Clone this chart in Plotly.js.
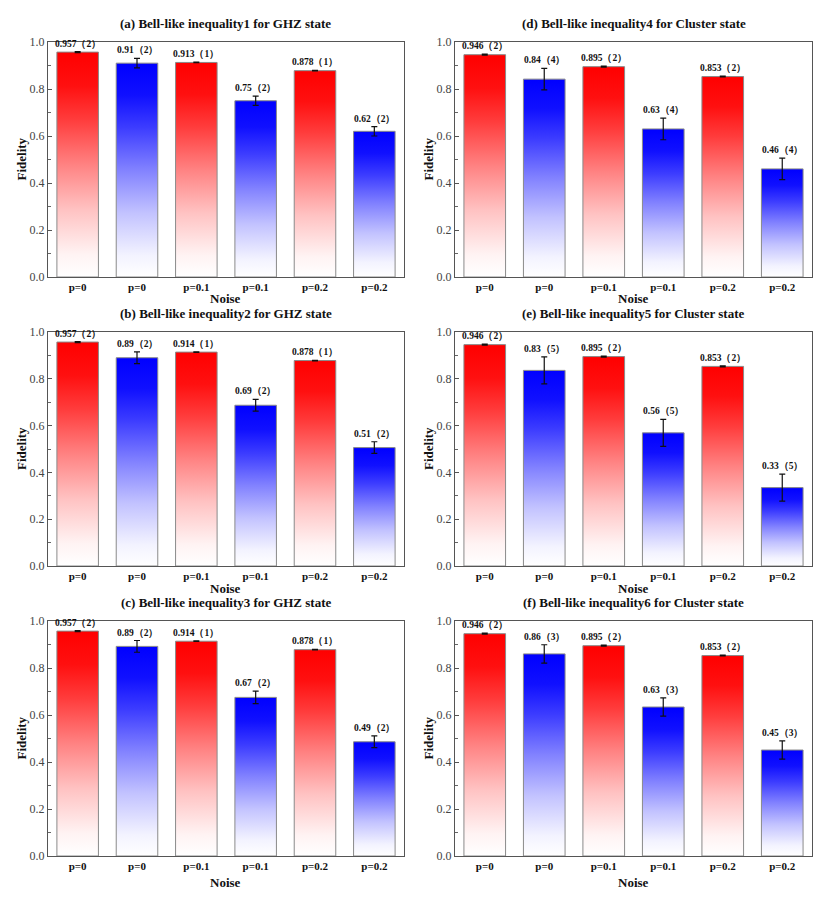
<!DOCTYPE html>
<html>
<head>
<meta charset="utf-8">
<script src="https://cdn.plot.ly/plotly-3.0.1.min.js"></script>
<style>html,body{margin:0;padding:0;background:#fff;}#chart{width:830px;height:906px;}</style>
</head>
<body>
<div id="chart"></div>
<script>
// ---------- data ----------
const categories = ['p=0', 'p=0', 'p=0.1', 'p=0.1', 'p=0.2', 'p=0.2'];
const barColorKind = ['red', 'blue', 'red', 'blue', 'red', 'blue'];

const titles = [
  '(a) Bell-like inequality1 for GHZ state',
  '(b) Bell-like inequality2 for GHZ state',
  '(c) Bell-like inequality3 for GHZ state',
  '(d) Bell-like inequality4 for Cluster state',
  '(e) Bell-like inequality5 for Cluster state',
  '(f) Bell-like inequality6 for Cluster state'
];

const valuesA = [0.957, 0.91, 0.913, 0.75, 0.878, 0.62];
const errorsA = [0.002, 0.02, 0.001, 0.02, 0.001, 0.02];
const labelsA = ['0.957（2）', '0.91（2）', '0.913（1）', '0.75（2）', '0.878（1）', '0.62（2）'];

const valuesB = [0.957, 0.89, 0.914, 0.687, 0.878, 0.506];
const errorsB = [0.002, 0.025, 0.001, 0.025, 0.001, 0.025];
const labelsB = ['0.957（2）', '0.89（2）', '0.914（1）', '0.69（2）', '0.878（1）', '0.51（2）'];

const valuesC = [0.957, 0.892, 0.914, 0.675, 0.878, 0.486];
const errorsC = [0.002, 0.025, 0.001, 0.027, 0.001, 0.025];
const labelsC = ['0.957（2）', '0.89（2）', '0.914（1）', '0.67（2）', '0.878（1）', '0.49（2）'];

const valuesD = [0.946, 0.842, 0.895, 0.63, 0.853, 0.46];
const errorsD = [0.002, 0.046, 0.002, 0.046, 0.002, 0.046];
const labelsD = ['0.946（2）', '0.84（4）', '0.895（2）', '0.63（4）', '0.853（2）', '0.46（4）'];

const valuesE = [0.946, 0.836, 0.895, 0.569, 0.853, 0.335];
const errorsE = [0.002, 0.058, 0.002, 0.058, 0.002, 0.058];
const labelsE = ['0.946（2）', '0.83（5）', '0.895（2）', '0.56（5）', '0.853（2）', '0.33（5）'];

const valuesF = [0.946, 0.86, 0.895, 0.634, 0.853, 0.451];
const errorsF = [0.002, 0.039, 0.002, 0.039, 0.002, 0.039];
const labelsF = ['0.946（2）', '0.86（3）', '0.895（2）', '0.63（3）', '0.853（2）', '0.45（3）'];

const yTickVals = [0, 0.2, 0.4, 0.6, 0.8, 1.0];
const yTickText = ['0.0', '0.2', '0.4', '0.6', '0.8', '1.0'];

// ---------- styling ----------
const FONT = 'Liberation Serif';
const W = 830, H = 906;
const panels = [
  {v: valuesA, e: errorsA, l: labelsA, x: [48, 404], y: [42, 277], noiseOff: 21, fidX: 21},
  {v: valuesB, e: errorsB, l: labelsB, x: [48, 404], y: [332, 566], noiseOff: 22, fidX: 21},
  {v: valuesC, e: errorsC, l: labelsC, x: [48, 404], y: [621, 856], noiseOff: 26, fidX: 21},
  {v: valuesD, e: errorsD, l: labelsD, x: [455, 812], y: [42, 277], noiseOff: 21, fidX: 428},
  {v: valuesE, e: errorsE, l: labelsE, x: [455, 812], y: [332, 566], noiseOff: 22, fidX: 428},
  {v: valuesF, e: errorsF, l: labelsF, x: [455, 812], y: [621, 856], noiseOff: 26, fidX: 428}
];
const scales = {
  red: [[0, '#ffffff'], [0.1, '#fff3f3'], [0.3, '#ffc2c2'], [0.5, '#ff8282'], [0.7, '#ff3c3c'], [0.85, '#ff1010'], [1, '#ff0000']],
  blue: [[0, '#ffffff'], [0.1, '#f3f3ff'], [0.3, '#c2c2ff'], [0.5, '#8282ff'], [0.7, '#3c3cff'], [0.85, '#1010ff'], [1, '#0000ff']]
};
const halfW = 0.35;

const traces = [];
const annotations = [];
const layout = {
  width: W, height: H, margin: {l: 0, r: 0, t: 0, b: 0},
  paper_bgcolor: '#fff', plot_bgcolor: '#fff', showlegend: false,
  font: {family: FONT, color: '#000'}
};

panels.forEach((p, k) => {
  const n = k + 1;
  const xa = n === 1 ? 'x' : 'x' + n;
  const ya = n === 1 ? 'y' : 'y' + n;
  const xd = [p.x[0] / W, p.x[1] / W];
  const yd = [1 - p.y[1] / H, 1 - p.y[0] / H];

  p.v.forEach((val, i) => {
    traces.push({
      type: 'scatter', mode: 'lines', xaxis: xa, yaxis: ya,
      x: [i - halfW, i + halfW, i + halfW, i - halfW, i - halfW],
      y: [0, 0, val, val, 0],
      fill: 'toself',
      fillgradient: {type: 'vertical', colorscale: scales[barColorKind[i]], start: 0, stop: val},
      line: {color: '#8a8a8a', width: 1},
      hoverinfo: 'skip'
    });
  });
  traces.push({
    type: 'scatter', mode: 'markers', xaxis: xa, yaxis: ya,
    x: categories.map((c, i) => i), y: p.v,
    marker: {size: 2, opacity: 0},
    error_y: {type: 'data', array: p.e, visible: true, color: '#111', thickness: 1.2, width: 3},
    hoverinfo: 'skip'
  });

  layout['xaxis' + (n === 1 ? '' : n)] = {
    domain: xd, anchor: ya, range: [-0.5, 5.5],
    tickvals: categories.map((c, i) => i), ticktext: categories.map(c => '<b>' + c + '</b>'),
    tickfont: {family: FONT, size: 11, color: '#111'},
    ticks: '', showgrid: false, zeroline: false,
    showline: true, mirror: true, linecolor: '#555', linewidth: 1.2, fixedrange: true
  };
  layout['yaxis' + (n === 1 ? '' : n)] = {
    domain: yd, anchor: xa, range: [0, 1],
    tickvals: yTickVals, ticktext: yTickText,
    tickfont: {family: FONT, size: 12, color: '#444'},
    ticks: 'inside', ticklen: 4, tickcolor: '#555', tickwidth: 1,
    minor: {tickvals: [0.1, 0.3, 0.5, 0.7, 0.9], ticks: 'inside', ticklen: 3, tickcolor: '#666', tickwidth: 1},
    showgrid: false, zeroline: false,
    showline: true, mirror: true, linecolor: '#555', linewidth: 1.2, fixedrange: true
  };

  // value labels
  p.v.forEach((val, i) => {
    annotations.push({
      xref: xa, yref: ya, x: i, y: val + p.e[i], yanchor: 'bottom', xanchor: 'center',
      yshift: 1, showarrow: false,
      text: '<b>' + p.l[i] + '</b>',
      font: {family: FONT, size: 9.5, color: '#111'}
    });
  });
  // panel title
  annotations.push({
    xref: 'paper', yref: 'paper', x: (xd[0] + xd[1]) / 2, y: yd[1],
    yanchor: 'bottom', xanchor: 'center', yshift: 9, showarrow: false,
    text: '<b>' + titles[k] + '</b>', font: {family: FONT, size: 13, color: '#111'}
  });
  // x title
  annotations.push({
    xref: 'paper', yref: 'paper', x: (xd[0] + xd[1]) / 2, y: 1 - (p.y[1] + p.noiseOff) / H,
    yanchor: 'middle', xanchor: 'center', showarrow: false,
    text: '<b>Noise</b>', font: {family: FONT, size: 13, color: '#111'}
  });
  // y title
  annotations.push({
    xref: 'paper', yref: 'paper', x: p.fidX / W, y: (yd[0] + yd[1]) / 2,
    yanchor: 'middle', xanchor: 'center', showarrow: false, textangle: -90,
    text: '<b>Fidelity</b>', font: {family: FONT, size: 13, color: '#111'}
  });
});
layout.annotations = annotations;

Plotly.newPlot('chart', traces, layout, {displayModeBar: false, staticPlot: true});
</script>
</body>
</html>
